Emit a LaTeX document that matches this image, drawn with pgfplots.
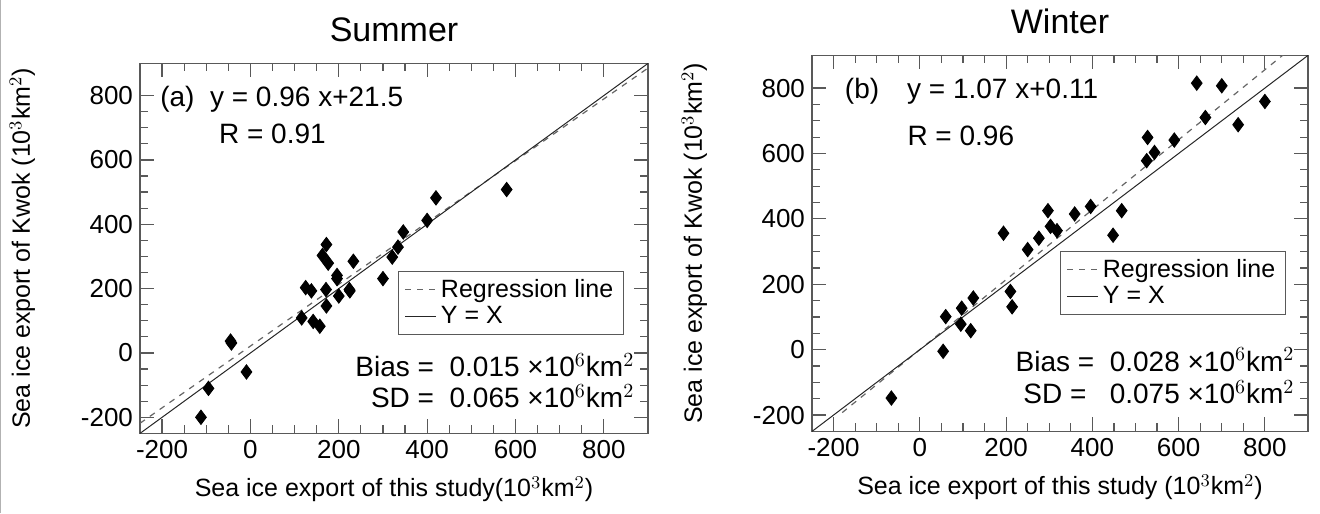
\documentclass[border=0pt]{standalone}
\usepackage{pgfplots}
\pgfplotsset{compat=1.18}
\usepackage{fontspec}
\setmainfont{Liberation Sans}
\begin{document}
\begin{tikzpicture}
\pgfplotsset{
  myax/.style={scale only axis, xmin=-250,xmax=900,ymin=-250,ymax=900,
    xtick={-200,0,...,800}, ytick={-200,0,...,800}, minor tick num=3,
    tick pos=both, tick align=inside, major tick length=7pt, minor tick length=4pt,
    every tick/.style={gray!70!black, line width=0.6pt},
    axis line style={gray!70!black, line width=0.8pt},
    /pgf/number format/assume math mode=true,
    ticklabel style={font=\fontsize{13}{14}\selectfont},
    label style={font=\fontsize{12.5}{14}\selectfont},
    title style={font=\fontsize{17}{18}\selectfont, yshift=1pt},
    ylabel={Sea ice export of Kwok (10$^3$km$^2$)},
    ylabel style={yshift=16pt},
    xlabel style={yshift=-2pt},
    legend cell align=left,
    legend style={draw=gray!70!black, font=\fontsize{12.5}{14}\selectfont, inner ysep=2pt, row sep=-1pt},
    legend image code/.code={\draw[#1] (0cm,0cm) -- (0.55cm,0cm);},
    clip=true,
  },
  pts/.style={only marks, mark=diamond*, mark size=3.6pt, mark options={fill=black,draw=black}},
}
\path (0pt,0pt) rectangle (660pt,256.5pt);
\draw[gray!60] (0.4pt,0pt) -- (0.4pt,256.5pt);
\begin{axis}[myax, at={(70pt,40pt)}, anchor=south west, width=254pt, height=185pt,
  title={Summer}, xlabel={Sea ice export of this study(10$^3$km$^2$)},
  legend style={at={(0.508,0.44)}, anchor=north west}]
\addplot[gray!80!black, dashed, line width=0.6pt] coordinates {(-250,-218.5) (900,885.5)};
\addlegendentry{Regression line}
\addplot[gray!30!black, line width=0.5pt] coordinates {(-250,-250) (900,900)};
\addlegendentry{Y = X}
\addplot[pts, forget plot] coordinates {
(580,508)(420,482)(400,412)(346,376)(334,329)(321,298)(300,231)(233,285)
(172,337)(163,303)(176,279)(196,241)(196,231)(224,197)(225,193)(171,197)
(125,203)(138,193)(200,177)(172,146)(116,109)(142,98)(157,83)(-45,37)
(-43,31)(-9,-59)(-95,-110)(-112,-200)};
\node[anchor=west, font=\fontsize{14}{15}\selectfont] at (axis cs:-220,790) {(a)\; y = 0.96 x+21.5};
\node[anchor=west, font=\fontsize{14}{15}\selectfont] at (axis cs:-87,682) {R = 0.91};
\node[anchor=east, font=\fontsize{14}{15}\selectfont] at (axis cs:885,-38) {Bias = \ 0.015 ×10$^6$km$^2$};
\node[anchor=east, font=\fontsize{14}{15}\selectfont] at (axis cs:885,-135) {SD = \ 0.065 ×10$^6$km$^2$};
\end{axis}
\begin{axis}[myax, at={(406pt,41pt)}, anchor=south west, width=248pt, height=188pt,
  title={Winter}, xlabel={Sea ice export of this study (10$^3$km$^2$)},
  legend style={at={(0.50,0.48)}, anchor=north west}]
\addplot[gray!80!black, dashed, line width=0.6pt] coordinates {(-180,-192.5) (900,963.1)};
\addlegendentry{Regression line}
\addplot[gray!30!black, line width=0.5pt] coordinates {(-250,-250) (900,900)};
\addlegendentry{Y = X}
\addplot[pts, forget plot] coordinates {
(642,815)(700,807)(800,759)(662,710)(738,688)(590,641)(528,649)(544,603)
(526,578)(396,438)(359,415)(297,425)(303,377)(318,364)(468,425)(448,350)
(276,341)(250,306)(194,356)(210,178)(214,131)(124,158)(97,127)(60,101)
(95,78)(118,58)(54,-5)(-66,-148)};
\node[anchor=west, font=\fontsize{14}{15}\selectfont] at (axis cs:-190,790) {(b)\quad y = 1.07 x+0.11};
\node[anchor=west, font=\fontsize{14}{15}\selectfont] at (axis cs:-45,655) {R = 0.96};
\node[anchor=east, font=\fontsize{14}{15}\selectfont] at (axis cs:885,-30) {Bias = \ 0.028 ×10$^6$km$^2$};
\node[anchor=east, font=\fontsize{14}{15}\selectfont] at (axis cs:885,-130) {SD = \ \ 0.075 ×10$^6$km$^2$};
\end{axis}
\end{tikzpicture}
\end{document}
